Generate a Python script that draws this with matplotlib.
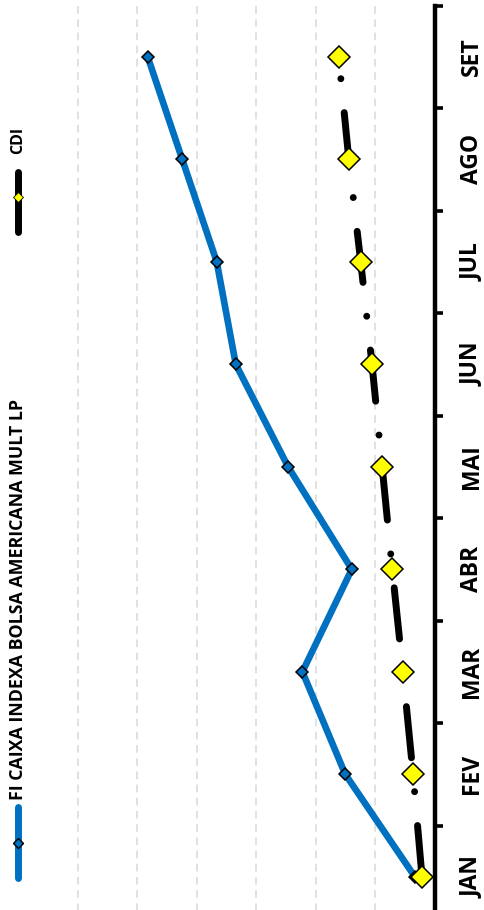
import matplotlib as mpl
mpl.use('Agg')
import matplotlib.pyplot as plt
from matplotlib.lines import Line2D

mpl.rcParams['lines.scale_dashes'] = False
plt.rcParams['font.family'] = ['Open Sans', 'DejaVu Sans']

months = ['JAN', 'FEV', 'MAR', 'ABR', 'MAI', 'JUN', 'JUL', 'AGO', 'SET']
fund = [0.33, 1.50, 2.22, 1.39, 2.46, 3.34, 3.66, 4.24, 4.82]
cdi = [0.21, 0.36, 0.53, 0.71, 0.88, 1.05, 1.24, 1.44, 1.61]
fund_name = 'FI CAIXA INDEXA BOLSA AMERICANA MULT LP'
cdi_name = 'CDI'

W, H = 484, 910
fig = plt.figure(figsize=(W / 100, H / 100), dpi=100)

# chart is drawn rotated: months run up the right edge, values grow to the left
px_unit = 59.5
x_axis = 434.5
left_px = 40
ax = fig.add_axes([left_px / W, (H - 928) / H, (x_axis - left_px) / W, (928 - 5.6) / H])

pos = list(range(len(months)))
ax.plot(fund, pos, color='#0070C0', lw=4.8, solid_joinstyle='round', solid_capstyle='round',
        marker='D', markersize=6.6, markerfacecolor='#0070C0', markeredgecolor='black',
        markeredgewidth=1.1, zorder=3)
ax.plot(cdi, pos, color='black', lw=5, linestyle=(0, (37, 24.5, 0.01, 24.5)),
        dash_capstyle='round', zorder=4)
ax.plot(cdi, pos, linestyle='none', marker='D', markersize=11.2, markerfacecolor='#FFFF00',
        markeredgecolor='black', markeredgewidth=1.1, zorder=5)

ax.set_xlim((x_axis - left_px) / px_unit, 0)
ax.set_ylim(-0.5, len(months) - 0.5)

for v in range(1, 7):
    ax.axvline(v, color='#D9D9D9', lw=1.1, linestyle=(0, (5.5, 4)), zorder=1)

for s in ['left', 'top', 'bottom']:
    ax.spines[s].set_visible(False)
ax.spines['right'].set_linewidth(3.2)
ax.spines['right'].set_color('black')

ax.set_xticks([])
ax.yaxis.tick_right()
ax.set_yticks(pos)
ax.set_yticklabels(months, rotation=90, fontsize=16.5, fontweight='bold', va='center')
ax.set_yticks([p - 0.5 for p in pos] + [len(months) - 0.5], minor=True)
ax.tick_params(axis='y', which='major', length=0, pad=18)
ax.tick_params(axis='y', which='minor', length=6, width=2.6, direction='out', right=True, left=False)

# rotated legend on the left edge
def fy(py):
    return 1 - py / H

lx = 18 / W
fig.add_artist(Line2D([lx, lx], [fy(878), fy(807)], color='#0070C0', lw=5,
                      solid_capstyle='round', transform=fig.transFigure))
fig.add_artist(Line2D([lx], [fy(843)], marker='D', markersize=5, markerfacecolor='#0070C0',
                      markeredgecolor='black', markeredgewidth=1, transform=fig.transFigure))
fig.text(lx, fy(800), fund_name, rotation=90, ha='center', va='bottom',
         fontsize=12.8, fontweight='bold')

fig.add_artist(Line2D([lx, lx], [fy(232), fy(172)], color='black', lw=5,
                      solid_capstyle='round', transform=fig.transFigure))
fig.add_artist(Line2D([lx], [fy(197)], marker='D', markersize=5, markerfacecolor='#FFFF00',
                      markeredgecolor='black', markeredgewidth=0.6, transform=fig.transFigure))
fig.text(lx, fy(154), cdi_name, rotation=90, ha='center', va='bottom',
         fontsize=11.5, fontweight='bold')

fig.savefig('out.png', dpi=100)
